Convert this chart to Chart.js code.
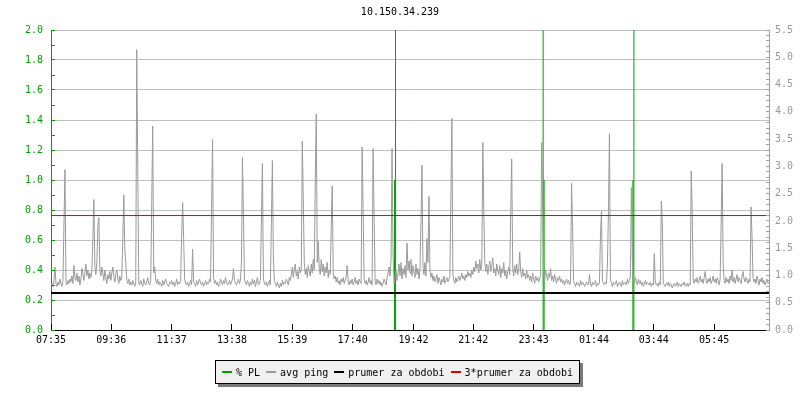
<!DOCTYPE html>
<html>
<head>
<meta charset="utf-8">
<script src="https://cdn.jsdelivr.net/npm/chart.js@4.4.0/dist/chart.umd.min.js"></script>
<style>
  html, body { margin: 0; padding: 0; background: #ffffff; }
  #wrap { position: relative; width: 800px; height: 400px; }
  #legend {
    position: absolute; left: 215px; top: 360px; height: 22px;
    border: 1px solid #000; background: #f0f0f0;
    box-shadow: 3px 3px 0 #7a7a7a;
    display: flex; align-items: center; padding: 0 6px;
    font: 10px "DejaVu Sans Mono", monospace; color: #000; white-space: pre;
  }
  #legend .sw { display: inline-block; width: 10px; height: 2px; margin-right: 4px; }
  #legend .it { display: flex; align-items: center; margin-right: 6px; }
  #legend .it:last-child { margin-right: 0; }
</style>
</head>
<body>
<div id="wrap">
  <canvas id="c" width="800" height="400"></canvas>
  <div id="legend"></div>
</div>
<script>
// ---------- data ----------
const chartTitle = "10.150.34.239";
const startTime = "07:35";
const spanMinutes = 1440;
const sampleStepMinutes = 2;
const xTickLabels = ["07:35","09:36","11:37","13:38","15:39","17:40","19:42","21:42","23:43","01:44","03:44","05:45"];
const leftTickLabels = ["0.0","0.2","0.4","0.6","0.8","1.0","1.2","1.4","1.6","1.8","2.0"];
const rightTickLabels = ["0.0","0.5","1.0","1.5","2.0","2.5","3.0","3.5","4.0","4.5","5.0","5.5"];
const seriesNames = ["% PL", "avg ping", "prumer za obdobi", "3*prumer za obdobi"];
const seriesColors = ["#00a000", "#9a9a9a", "#000000", "#e00000"];

// avg ping, one value every 2 minutes starting 07:35
const pingValues = [
 0.31,0.30,0.29,0.33,0.42,0.31,0.29,0.32,0.30,0.34,0.31,0.29,0.33,0.70,1.07,0.32,0.30,0.33,0.31,0.34,
 0.32,0.36,0.31,0.43,0.35,0.33,0.38,0.32,0.36,0.30,0.34,0.41,0.37,0.33,0.39,0.44,0.36,0.40,0.34,0.38,
 0.35,0.40,0.61,0.87,0.42,0.37,0.45,0.69,0.75,0.40,0.36,0.42,0.38,0.33,0.40,0.35,0.31,0.37,0.34,0.39,
 0.33,0.38,0.42,0.36,0.32,0.37,0.40,0.34,0.31,0.36,0.33,0.35,0.61,0.90,0.54,0.45,0.33,0.31,0.34,0.30,
 0.32,0.30,0.33,0.31,0.29,0.32,1.87,1.09,0.31,0.30,0.33,0.31,0.29,0.34,0.31,0.30,0.32,0.35,0.31,0.30,
 0.33,0.85,1.36,0.38,0.42,0.33,0.31,0.34,0.30,0.32,0.31,0.29,0.33,0.30,0.32,0.34,0.31,0.30,0.29,0.32,
 0.31,0.33,0.30,0.32,0.29,0.31,0.34,0.30,0.32,0.31,0.33,0.63,0.85,0.61,0.34,0.31,0.30,0.32,0.29,0.31,
 0.33,0.30,0.54,0.32,0.31,0.29,0.33,0.30,0.32,0.34,0.31,0.30,0.32,0.29,0.31,0.33,0.30,0.32,0.31,0.34,
 0.32,0.81,1.27,0.35,0.31,0.33,0.30,0.32,0.29,0.31,0.34,0.32,0.30,0.33,0.31,0.35,0.32,0.30,0.31,0.33,
 0.30,0.32,0.34,0.41,0.33,0.31,0.30,0.32,0.34,0.31,0.33,0.46,1.15,0.77,0.34,0.31,0.30,0.33,0.31,0.29,
 0.32,0.30,0.34,0.31,0.33,0.29,0.32,0.35,0.30,0.31,0.33,0.74,1.11,0.34,0.31,0.30,0.32,0.29,0.31,0.33,
 0.30,0.71,1.13,0.47,0.33,0.31,0.29,0.32,0.30,0.28,0.31,0.29,0.33,0.30,0.32,0.31,0.34,0.32,0.30,0.35,
 0.33,0.37,0.42,0.35,0.40,0.44,0.36,0.39,0.34,0.42,0.38,0.40,1.26,0.86,0.45,0.37,0.41,0.35,0.43,0.39,
 0.36,0.44,0.38,0.47,0.40,1.00,1.44,0.45,0.59,0.41,0.37,0.47,0.39,0.44,0.36,0.42,0.38,0.45,0.35,0.40,
 0.37,0.69,0.96,0.38,0.34,0.36,0.32,0.35,0.31,0.33,0.30,0.34,0.32,0.35,0.31,0.33,0.36,0.43,0.32,0.30,
 0.33,0.31,0.34,0.30,0.32,0.35,0.31,0.33,0.30,0.34,0.32,0.31,1.22,0.81,0.34,0.31,0.33,0.30,0.32,0.35,
 0.31,0.33,0.30,1.21,0.76,0.32,0.30,0.34,0.31,0.33,0.30,0.32,0.29,0.31,0.34,0.32,0.30,0.35,0.38,0.42,
 0.36,0.47,1.21,0.50,0.31,0.35,0.40,0.33,0.38,0.44,0.36,0.45,0.34,0.41,0.37,0.43,0.35,0.58,0.40,0.46,
 0.38,0.47,0.36,0.43,0.39,0.35,0.44,0.37,0.41,0.34,0.40,0.72,1.10,0.42,0.37,0.45,0.36,0.61,0.45,0.89,
 0.40,0.35,0.38,0.33,0.36,0.32,0.34,0.37,0.31,0.35,0.33,0.30,0.34,0.32,0.36,0.31,0.33,0.35,0.32,0.34,
 0.36,0.88,1.41,0.37,0.33,0.31,0.35,0.32,0.34,0.36,0.33,0.35,0.38,0.34,0.36,0.33,0.37,0.35,0.39,0.36,
 0.38,0.35,0.40,0.37,0.42,0.39,0.46,0.41,0.44,0.38,0.47,0.40,0.43,1.25,0.81,0.45,0.39,0.44,0.37,0.42,
 0.46,0.39,0.43,0.48,0.38,0.41,0.36,0.44,0.40,0.37,0.43,0.35,0.41,0.38,0.45,0.36,0.40,0.34,0.39,0.42,
 0.37,0.79,1.14,0.41,0.36,0.43,0.38,0.44,0.37,0.40,0.52,0.39,0.35,0.41,0.36,0.38,0.34,0.40,0.35,0.37,
 0.33,0.36,0.32,0.38,0.34,0.31,0.36,0.33,0.35,0.32,0.34,0.37,1.25,0.85,0.39,0.34,0.40,0.36,0.33,0.38,
 0.35,0.41,0.33,0.36,0.32,0.37,0.34,0.31,0.35,0.33,0.36,0.32,0.34,0.31,0.33,0.30,0.32,0.34,0.31,0.33,
 0.30,0.32,0.98,0.69,0.33,0.31,0.29,0.32,0.30,0.31,0.29,0.33,0.30,0.32,0.31,0.29,0.30,0.32,0.31,0.30,
 0.37,0.31,0.29,0.32,0.30,0.31,0.33,0.29,0.31,0.30,0.32,0.63,0.79,0.33,0.31,0.30,0.32,0.31,0.44,0.79,
 1.31,0.34,0.31,0.29,0.32,0.30,0.31,0.33,0.29,0.30,0.32,0.31,0.29,0.33,0.30,0.31,0.32,0.30,0.34,0.31,
 0.33,0.36,0.95,0.45,0.33,0.31,0.35,0.32,0.30,0.34,0.31,0.33,0.30,0.32,0.29,0.31,0.33,0.30,0.32,0.31,
 0.30,0.32,0.29,0.31,0.30,0.51,0.32,0.30,0.31,0.29,0.32,0.30,0.86,0.72,0.31,0.30,0.29,0.31,0.30,0.32,
 0.29,0.31,0.30,0.28,0.30,0.31,0.29,0.30,0.32,0.29,0.31,0.30,0.29,0.31,0.30,0.32,0.29,0.30,0.31,0.29,
 0.31,0.30,1.06,0.78,0.33,0.31,0.34,0.32,0.35,0.31,0.33,0.36,0.32,0.34,0.31,0.35,0.39,0.33,0.31,0.34,
 0.32,0.35,0.31,0.33,0.36,0.32,0.34,0.31,0.35,0.33,0.30,0.34,0.72,1.11,0.44,0.33,0.31,0.35,0.32,0.34,
 0.31,0.36,0.33,0.40,0.32,0.35,0.31,0.34,0.37,0.32,0.35,0.33,0.31,0.36,0.39,0.34,0.32,0.35,0.33,0.31,
 0.34,0.32,0.82,0.62,0.35,0.32,0.34,0.31,0.36,0.33,0.30,0.34,0.32,0.35,0.31,0.33,0.30,0.32,0.34,0.31,
 0.32
];

// packet loss samples (minutes after 07:35, % value); zero elsewhere
const plTimes  = [689, 691, 987, 989, 1167, 1169];
const plValues = [1.0, 3.0, 3.0, 1.0, 1.0, 3.0];

const avgLevel = 0.246;        // prumer za obdobi
const avg3Level = 0.763;       // 3*prumer za obdobi

// ---------- helpers ----------
function toMin(s) { const p = s.split(":"); return (+p[0]) * 60 + (+p[1]); }
const startMin = toMin(startTime);
const xTickValues = xTickLabels.map(l => (toMin(l) - startMin + 1440) % 1440);

const pingData = pingValues.map((v, i) => ({ x: i * sampleStepMinutes, y: v }));
const plData = [];
plTimes.forEach((t, i) => {
  plData.push({ x: t, y: 0 }, { x: t, y: plValues[i] }, { x: t, y: null });
});
const avgData = [{ x: 0, y: avgLevel }, { x: spanMinutes, y: avgLevel }];
const avg3Data = [{ x: 0, y: avg3Level }, { x: spanMinutes, y: avg3Level }];

const FONT = "'DejaVu Sans Mono', monospace";
const GREEN = seriesColors[0];

function align(p) { return Math.round(p - 0.5) + 0.5; }

const tickPlugin = {
  id: 'innerTicks',
  afterDatasetsDraw(chart) {
    const { ctx, chartArea: a, scales } = chart;
    ctx.save();
    ctx.lineWidth = 1;
    ctx.strokeStyle = '#000';
    scales.x.ticks.forEach(t => {
      const px = align(scales.x.getPixelForValue(t.value));
      ctx.beginPath(); ctx.moveTo(px, a.bottom); ctx.lineTo(px, a.bottom - 6); ctx.stroke();
    });
    ctx.strokeStyle = GREEN;
    scales.y.ticks.forEach(t => {
      const py = align(scales.y.getPixelForValue(t.value));
      ctx.beginPath(); ctx.moveTo(a.left, py); ctx.lineTo(a.left + 4, py); ctx.stroke();
    });
    ctx.strokeStyle = '#a0a0a0';
    scales.y2.ticks.forEach(t => {
      const py = align(scales.y2.getPixelForValue(t.value));
      ctx.beginPath(); ctx.moveTo(a.right - 3, py); ctx.lineTo(a.right, py); ctx.stroke();
    });
    ctx.restore();
  }
};

new Chart(document.getElementById('c'), {
  type: 'line',
  data: {
    datasets: [
      { label: seriesNames[2], data: avgData, borderColor: seriesColors[2], borderWidth: 2, order: 0 },
      { label: seriesNames[3], data: avg3Data, borderColor: seriesColors[3], borderWidth: 1, order: 1 },
      { label: seriesNames[1], data: pingData, borderColor: seriesColors[1], borderWidth: 1, order: 2 },
      { label: seriesNames[0], data: plData, borderColor: seriesColors[0], borderWidth: 1, order: 3, spanGaps: false }
    ]
  },
  options: {
    responsive: false,
    animation: false,
    devicePixelRatio: 1,
    events: [],
    elements: { point: { radius: 0 }, line: { tension: 0, fill: false } },
    layout: { padding: 0 },
    plugins: {
      legend: { display: false },
      tooltip: { enabled: false },
      title: {
        display: true, text: chartTitle, color: '#000',
        font: { family: FONT, size: 10, weight: 'normal', lineHeight: 1.2 },
        padding: { top: 6, bottom: 12 }
      }
    },
    scales: {
      x: {
        type: 'linear', position: 'bottom', min: 0, max: spanMinutes,
        afterFit(s) { s.height = 70; },
        afterBuildTicks(s) { s.ticks = xTickValues.map(v => ({ value: v })); },
        ticks: {
          autoSkip: false, maxRotation: 0, padding: 4, color: '#000',
          font: { family: FONT, size: 10 },
          callback: (v, i) => xTickLabels[i]
        },
        grid: { display: false, drawTicks: false },
        border: { display: true, color: '#000', width: 1 }
      },
      y: {
        type: 'linear', position: 'left', min: 0, max: 2,
        afterFit(s) { s.width = 51; },
        afterBuildTicks(s) {
          const t = [];
          for (let k = 0; k <= 20; k++) t.push({ value: k / 10 });
          s.ticks = t;
        },
        ticks: {
          autoSkip: false, padding: 8, color: GREEN,
          font: { family: FONT, size: 10 },
          callback: v => { const s = v.toFixed(1); return leftTickLabels.includes(s) ? s : ''; }
        },
        grid: {
          drawTicks: false,
          color: c => {
            const k = Math.round(c.tick.value * 10);
            return (k > 0 && k % 2 === 0) ? '#c0c0c0' : 'rgba(0,0,0,0)';
          }
        },
        border: { display: true, color: GREEN, width: 1 }
      },
      y2: {
        type: 'linear', position: 'right', min: 0, max: 5.5,
        afterFit(s) { s.width = 31; },
        afterBuildTicks(s) {
          const t = [];
          for (let k = 0; k <= 55; k++) t.push({ value: k / 10 });
          s.ticks = t;
        },
        ticks: {
          autoSkip: false, padding: 6, color: '#999999',
          font: { family: FONT, size: 10 },
          callback: v => { const s = v.toFixed(1); return rightTickLabels.includes(s) ? s : ''; }
        },
        grid: { drawOnChartArea: false, drawTicks: false },
        border: { display: true, color: '#a0a0a0', width: 1 }
      }
    }
  },
  plugins: [tickPlugin]
});

// ---------- legend ----------
const lg = document.getElementById('legend');
seriesNames.forEach((n, i) => {
  const it = document.createElement('span'); it.className = 'it';
  const sw = document.createElement('span'); sw.className = 'sw'; sw.style.background = seriesColors[i];
  const tx = document.createElement('span'); tx.textContent = n;
  it.appendChild(sw); it.appendChild(tx); lg.appendChild(it);
});
</script>
</body>
</html>
